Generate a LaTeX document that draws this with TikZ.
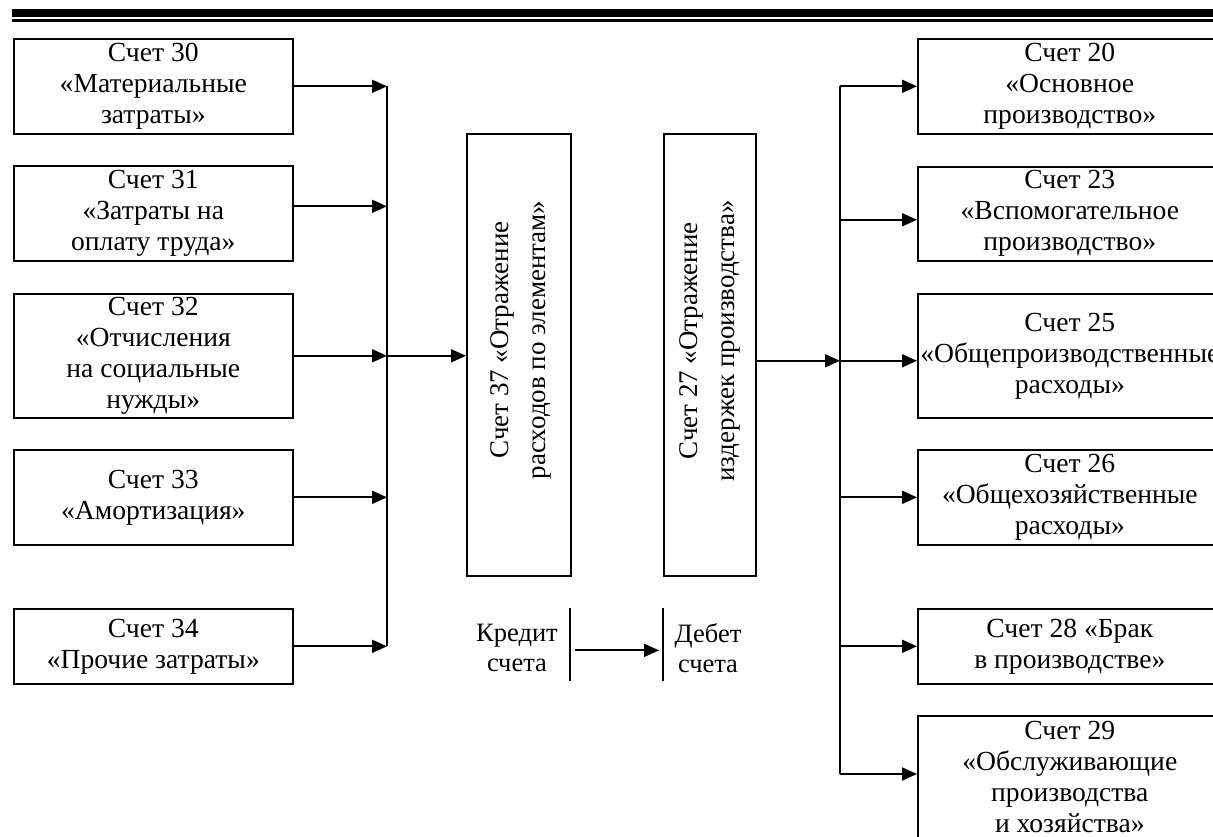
\documentclass[tikz,border=0pt]{standalone}
\usepackage{fontspec}
\setmainfont{Liberation Serif}
\usetikzlibrary{arrows.meta,calc}

\tikzset{
  schet/.style={draw,line width=1.6pt,align=center,inner sep=0pt,anchor=north west,
    font=\fontsize{27.6}{31}\selectfont},
  vert/.style={rotate=90,align=center,font=\fontsize{27}{37}\selectfont},
  arr/.style={line width=1.9pt,-{Triangle[length=15pt,width=13pt]}},
  lin/.style={line width=1.9pt}
}

\begin{document}
\begin{tikzpicture}[x=1pt,y=-1pt]
  \useasboundingbox (0,0) rectangle (1213,837);
  \clip (0,0) rectangle (1213,837);
  %RULE
  \fill (12,9) rectangle (1213,17.5);
  \fill (12,19.5) rectangle (1213,21.8);
  %SCHETA SLEVA
  \node[schet,minimum width=279,minimum height=95] (s30) at (13,38) {Счет 30\\«Материальные\\затраты»};
  \node[schet,minimum width=279,minimum height=95] (s31) at (13,165) {Счет 31\\«Затраты на\\оплату труда»};
  \node[schet,minimum width=279,minimum height=124] (s32) at (13,293) {Счет 32\\«Отчисления\\на социальные\\нужды»};
  \node[schet,minimum width=279,minimum height=95] (s33) at (13,449) {Счет 33\\«Амортизация»};
  \node[schet,minimum width=279,minimum height=75] (s34) at (13,608) {Счет 34\\«Прочие затраты»};
  %SCHETA 37 I 27
  \node[draw,line width=1.6pt,anchor=north west,minimum width=104,minimum height=442] (s37) at (466,133) {};
  \node[draw,line width=1.6pt,anchor=north west,minimum width=92,minimum height=442] (s27) at (663,133) {};
  \node[vert] (t37) at (521,340) {Счет 37 «Отражение\\расходов по элементам»};
  \node[vert] (t27) at (710,341) {Счет 27 «Отражение\\издержек производства»};
  %SCHETA SPRAVA
  \node[schet,minimum width=304,minimum height=95] (s20) at (917,38) {Счет 20\\«Основное\\производство»};
  \node[schet,minimum width=304,minimum height=94] (s23) at (917,166) {Счет 23\\«Вспомогательное\\производство»};
  \node[schet,minimum width=304,minimum height=124] (s25) at (917,293) {Счет 25\\«Общепроизводственные\\расходы»};
  \node[schet,minimum width=304,minimum height=95] (s26) at (917,449) {Счет 26\\«Общехозяйственные\\расходы»};
  \node[schet,minimum width=304,minimum height=75] (s28) at (917,608) {Счет 28 «Брак\\в производстве»};
  \node[schet,minimum width=304,minimum height=122] (s29) at (917,715) {Счет 29\\«Обслуживающие\\производства\\и хозяйства»};
  %SHINY
  \coordinate (lbus) at (387,0);
  \coordinate (rbus) at (840,0);
  \coordinate (rbot) at (840,774);
  \foreach \s in {s30,s32,s33,s34}
    \draw[arr] (\s.east) -- (\s.east -| lbus);
  \draw[arr] ([yshift=7pt]s31.east) -- ([yshift=7pt]s31.east -| lbus);
  \draw[lin] (s30.east -| lbus) -- (s34.east -| lbus);
  \draw[arr] (s32.east -| lbus) -- (s32.east -| s37.west);
  \draw[arr] ([yshift=-5pt]s27.east |- s25.west) -- ([yshift=-5pt]s25.west -| rbus);
  \draw[lin] (s20.west -| rbus) -- (rbot);
  \foreach \s in {s20,s26,s28}
    \draw[arr] (\s.west -| rbus) -- (\s.west);
  \draw[arr] ([yshift=-6pt]s23.west -| rbus) -- ([yshift=-6pt]s23.west);
  \draw[arr] ([yshift=-5pt]s25.west -| rbus) -- ([yshift=-5pt]s25.west);
  \draw[arr] (rbot) -- (rbot -| s29.west);
  %KREDIT-DEBET
  \coordinate (kt) at (570,608);
  \coordinate (kb) at (570,681);
  \coordinate (dt) at (663,608);
  \coordinate (db) at (663,681);
  \draw[lin] (kt) -- (kb) (dt) -- (db);
  \draw[arr,shorten <=5pt,shorten >=4pt] ($(kt)!0.58!(kb)$) -- ($(dt)!0.58!(db)$);
  \node[align=center,font=\fontsize{26.5}{30}\selectfont] (kred) at (517,648) {Кредит\\счета};
  \node[align=center,font=\fontsize{26.5}{30}\selectfont] (deb) at (708,648) {Дебет\\счета};
\end{tikzpicture}
\end{document}
